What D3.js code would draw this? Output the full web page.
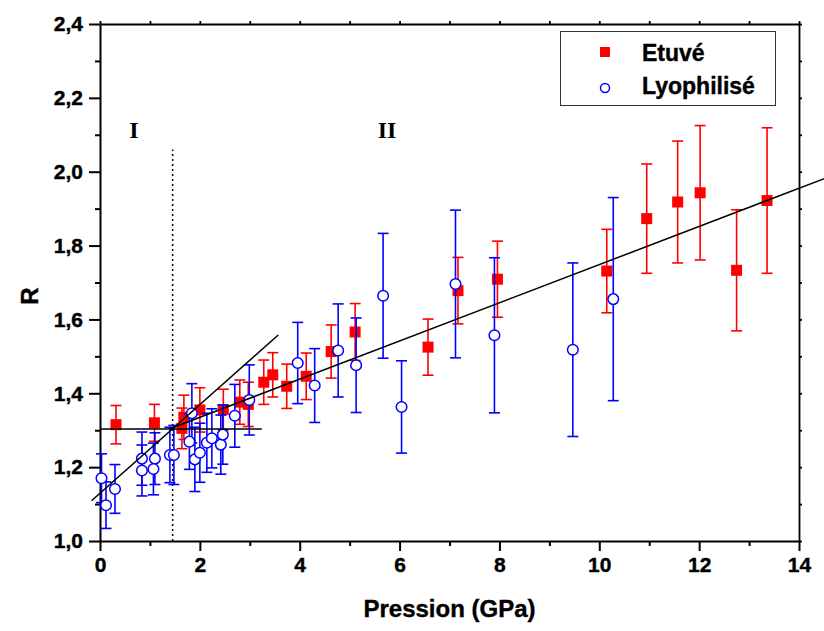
<!DOCTYPE html>
<html>
<head>
<meta charset="utf-8">
<script src="https://cdn.jsdelivr.net/npm/d3@7/dist/d3.min.js"></script>
<style>
  html, body { margin: 0; padding: 0; background: #fff; }
  svg { display: block; }
  .tick text { font-family: "Liberation Sans", Arial, sans-serif; font-weight: bold; }
</style>
</head>
<body>
<svg id="chart" width="824" height="631"></svg>
<script>
// ---------- data ----------
const etuveP   = [0.32, 1.09, 1.64, 1.68, 2.00, 2.47, 2.80, 2.97, 3.28, 3.46, 3.74, 4.13, 4.63, 5.11, 6.57, 7.17, 7.96, 10.15, 10.95, 11.57, 12.02, 12.75, 13.36];
const etuveR   = [1.315, 1.320, 1.305, 1.335, 1.355, 1.356, 1.376, 1.370, 1.430, 1.450, 1.419, 1.446, 1.513, 1.566, 1.525, 1.678, 1.709, 1.731, 1.873, 1.918, 1.943, 1.733, 1.922];
const etuveErr = [0.052, 0.050, 0.055, 0.060, 0.060, 0.055, 0.060, 0.060, 0.060, 0.060, 0.060, 0.063, 0.072, 0.077, 0.076, 0.090, 0.103, 0.113, 0.148, 0.165, 0.182, 0.164, 0.197];

const lyoP   = [0.03, 0.12, 0.30, 0.84, 0.84, 1.10, 1.07, 1.40, 1.48, 1.79, 1.84, 1.90, 2.00, 2.14, 2.24, 2.42, 2.46, 2.70, 2.99, 3.96, 4.30, 4.77, 5.13, 5.67, 6.04, 7.12, 7.90, 9.47, 10.28];
const lyoR   = [1.170, 1.097, 1.141, 1.223, 1.191, 1.223, 1.195, 1.233, 1.233, 1.269, 1.346, 1.221, 1.239, 1.266, 1.278, 1.261, 1.288, 1.339, 1.382, 1.482, 1.421, 1.516, 1.476, 1.664, 1.363, 1.696, 1.557, 1.518, 1.655];
const lyoErr = [0.066, 0.063, 0.066, 0.072, 0.069, 0.070, 0.070, 0.075, 0.080, 0.075, 0.080, 0.087, 0.080, 0.080, 0.080, 0.080, 0.080, 0.085, 0.095, 0.110, 0.100, 0.126, 0.128, 0.169, 0.125, 0.200, 0.210, 0.235, 0.275];

// fitted / guide lines (endpoints)
const flatLineP  = [0, 3.24];
const flatLineR  = [1.303, 1.303];
const steepLineP = [-0.17, 3.57];
const steepLineR = [1.109, 1.558];
const longLineP  = [1.40, 14.52];
const longLineR  = [1.304, 1.982];
const boundaryP  = [1.455, 1.455];
const boundaryR  = [1.0, 2.06];

const xMajor = [0, 2, 4, 6, 8, 10, 12, 14];
const xMinor = [1, 3, 5, 7, 9, 11, 13];
const yMajor = [1.0, 1.2, 1.4, 1.6, 1.8, 2.0, 2.2, 2.4];
const yMinor = [1.1, 1.3, 1.5, 1.7, 1.9, 2.1, 2.3];

const seriesNames = ["Etuvé", "Lyophilisé"];
const regionLabels = ["I", "II"];
const regionLabelP = [0.68, 5.75];
const regionLabelR = [2.08, 2.08];

// ---------- layout ----------
const svg = d3.select("#chart");
const L = 100, R = 799, T = 24, B = 541;
const x = d3.scaleLinear().domain([0, 14]).range([L, R]);
const y = d3.scaleLinear().domain([1.0, 2.4]).range([B, T]);
const RED = "#ff0000", BLUE = "#0000ff";
const fmt = v => d3.format(".1f")(v).replace(".", ",");
const SANS = "Liberation Sans, Arial, sans-serif";

function styleAxis(g, w) {
  g.select(".domain").attr("stroke", "#000").attr("stroke-width", w);
  g.selectAll(".tick line").attr("stroke", "#000").attr("stroke-width", w);
}
function styleLabels(g) {
  g.selectAll("text").attr("font-size", 21).attr("fill", "#000")
    .attr("stroke", "#000").attr("stroke-width", 0.4);
}
// bottom
svg.append("g").attr("transform", `translate(0,${B})`)
  .call(d3.axisBottom(x).tickValues(xMinor).tickSize(5).tickFormat(""))
  .call(g => { styleAxis(g, 2); g.select(".domain").remove(); });
svg.append("g").attr("transform", `translate(0,${B})`)
  .call(d3.axisBottom(x).tickValues(xMajor).tickSize(10).tickSizeOuter(0).tickPadding(6).tickFormat(d3.format("d")))
  .call(g => { styleAxis(g, 2); styleLabels(g); });
// left
svg.append("g").attr("transform", `translate(${L},0)`)
  .call(d3.axisLeft(y).tickValues(yMinor).tickSize(5).tickFormat(""))
  .call(g => { styleAxis(g, 2); g.select(".domain").remove(); });
svg.append("g").attr("transform", `translate(${L},0)`)
  .call(d3.axisLeft(y).tickValues(yMajor).tickSize(11).tickSizeOuter(0).tickPadding(6).tickFormat(fmt))
  .call(g => { styleAxis(g, 2); styleLabels(g); });
// top
svg.append("g").attr("transform", `translate(0,${T})`)
  .call(d3.axisTop(x).tickValues(xMajor.concat(xMinor)).tickSize(3).tickSizeOuter(0).tickFormat(""))
  .call(g => styleAxis(g, 1.8));
// right
svg.append("g").attr("transform", `translate(${R},0)`)
  .call(d3.axisRight(y).tickValues(yMajor.concat(yMinor)).tickSize(3).tickSizeOuter(0).tickFormat(""))
  .call(g => styleAxis(g, 1.8));

// axis titles
svg.append("text").attr("x", x(7)).attr("y", 617).attr("text-anchor", "middle")
  .attr("font-family", SANS).attr("font-weight", "bold")
  .attr("stroke", "#000").attr("stroke-width", 0.4)
  .attr("font-size", 24).text("Pression (GPa)");
svg.append("text").attr("transform", `translate(38,${296}) rotate(-90)`).attr("text-anchor", "middle")
  .attr("font-family", SANS).attr("font-weight", "bold")
  .attr("stroke", "#000").attr("stroke-width", 0.4)
  .attr("font-size", 24).text("R");

// region labels
svg.selectAll(".region").data(regionLabels).join("text")
  .attr("x", (d, i) => x(regionLabelP[i])).attr("y", (d, i) => y(regionLabelR[i]) - 4)
  .attr("text-anchor", "middle")
  .attr("font-family", "Liberation Serif, Times New Roman, serif").attr("font-weight", "bold")
  .attr("font-size", 24).text(d => d);

// dotted boundary
const line = d3.line().x(d => x(d[0])).y(d => y(d[1]));
svg.append("path").attr("d", line(d3.zip(boundaryP, boundaryR)))
  .attr("stroke", "#000").attr("stroke-width", 1.5).attr("stroke-dasharray", "2,3").attr("fill", "none");

// error bars + markers
function drawErr(P, Rv, E, color) {
  const g = svg.append("g").attr("stroke", color).attr("stroke-width", 1.6).attr("fill", "none");
  P.forEach((p, i) => {
    const cx = x(p), y1 = y(Rv[i] + E[i]), y2 = y(Rv[i] - E[i]);
    g.append("line").attr("x1", cx).attr("x2", cx).attr("y1", y1).attr("y2", y2);
    g.append("line").attr("x1", cx - 5.5).attr("x2", cx + 5.5).attr("y1", y1).attr("y2", y1);
    g.append("line").attr("x1", cx - 5.5).attr("x2", cx + 5.5).attr("y1", y2).attr("y2", y2);
  });
}
drawErr(etuveP, etuveR, etuveErr, RED);
svg.append("g").selectAll("rect").data(etuveP).join("rect")
  .attr("x", (d) => x(d) - 5.5).attr("y", (d, i) => y(etuveR[i]) - 5.5)
  .attr("width", 11).attr("height", 11).attr("fill", RED);

drawErr(lyoP, lyoR, lyoErr, BLUE);
svg.append("g").selectAll("circle").data(lyoP).join("circle")
  .attr("cx", d => x(d)).attr("cy", (d, i) => y(lyoR[i])).attr("r", 5.3)
  .attr("fill", "#fff").attr("stroke", BLUE).attr("stroke-width", 1.5);

// fit lines
[[flatLineP, flatLineR], [steepLineP, steepLineR], [longLineP, longLineR]].forEach(([P, Rv]) => {
  svg.append("path").attr("d", line(d3.zip(P, Rv)))
    .attr("stroke", "#000").attr("stroke-width", 1.5).attr("fill", "none");
});

// legend
const lg = svg.append("g");
lg.append("rect").attr("x", 560.5).attr("y", 31.5).attr("width", 215).attr("height", 74)
  .attr("fill", "#fff").attr("stroke", "#333").attr("stroke-width", 1);
lg.append("rect").attr("x", 600).attr("y", 47).attr("width", 10).attr("height", 10).attr("fill", RED);
lg.append("circle").attr("cx", 605).attr("cy", 88).attr("r", 4.5)
  .attr("fill", "#fff").attr("stroke", BLUE).attr("stroke-width", 1.5);
lg.selectAll("text").data(seriesNames).join("text")
  .attr("x", 642).attr("y", (d, i) => i === 0 ? 60.5 : 94)
  .attr("font-family", SANS).attr("font-weight", "bold")
  .attr("stroke", "#000").attr("stroke-width", 0.4)
  .attr("font-size", 23).text(d => d);
</script>
</body>
</html>
